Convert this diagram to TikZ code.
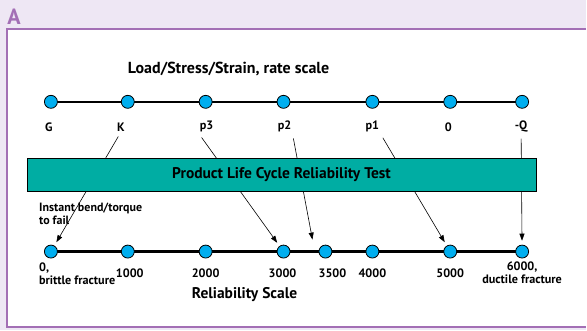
\documentclass[tikz,border=0pt]{standalone}
\usepackage{fontspec}
\setmainfont{PT Sans}
\usetikzlibrary{arrows.meta}
\definecolor{lavender}{HTML}{EEE7F4}
\definecolor{framepurple}{HTML}{A36FB5}
\definecolor{testteal}{HTML}{00ADA3}
\definecolor{dotcyan}{HTML}{00AEEF}

\begin{document}
\begin{tikzpicture}[x=1pt, y=-1pt,
    every node/.style={font=\bfseries\fontsize{12.2}{13}\selectfont},
    dot/.style={circle, draw, fill=dotcyan, line width=0.8pt, minimum size=13pt, inner sep=0pt},
    axis/.style={line width=2.6pt},
    lbl/.style={inner sep=1pt},
    link/.style={-{Triangle[length=7pt, width=5pt]}, line width=0.6pt, shorten <=5pt, shorten >=4pt}]

  % frame
  \fill[lavender] (0,0) rectangle (587,331);
  \filldraw[fill=white, draw=framepurple, line width=2pt] (587,29) -- (7,29) -- (7,328) -- (587,328);
  \node[text=framepurple, font=\bfseries\fontsize{22}{24}\selectfont] (tag) at (14,17) {A};

  \node[font=\bfseries\fontsize{16}{18}\selectfont] (loadtitle) at (229,69) {Load/Stress/Strain, rate scale};

  % load scale
  \draw[axis] (51,102) -- (523,102);
  \node[dot] (t1) at (51,102) {};
  \node[dot] (t2) at (128,102) {};
  \node[dot] (t3) at (206,102) {};
  \node[dot] (t4) at (284,102) {};
  \node[dot] (t5) at (373,102) {};
  \node[dot] (t6) at (451,102) {};
  \node[dot] (t7) at (523,102) {};

  \node[lbl] (lG) at (49,127) {G};
  \node[lbl] (lK) at (121,127) {K};
  \node[lbl] (lp3) at (207,127) {p3};
  \node[lbl] (lp2) at (285,127) {p2};
  \node[lbl] (lp1) at (373,127) {p1};
  \node[lbl] (l0) at (449,127) {0};
  \node[lbl] (lQ) at (522,127) {-Q};

  % reliability scale
  \draw[axis] (51,252) -- (523,252);
  \node[dot] (b1) at (51,252) {};
  \node[dot] (b2) at (128,252) {};
  \node[dot] (b3) at (206,252) {};
  \node[dot] (b4) at (284,252) {};
  \node[dot] (b5) at (326,252) {};
  \node[dot] (b6) at (373,252) {};
  \node[dot] (b7) at (451,252) {};
  \node[dot] (b8) at (523,252) {};

  \node[lbl, anchor=north west, align=left] (r0) at (38,262) {0,\\brittle fracture};
  \node[lbl] (r1000) at (130,274) {1000};
  \node[lbl] (r2000) at (206,274) {2000};
  \node[lbl] (r3000) at (283,274) {3000};
  \node[lbl] (r3500) at (333,274) {3500};
  \node[lbl] (r4000) at (373,274) {4000};
  \node[lbl] (r5000) at (451,274) {5000};
  \node[lbl, anchor=north, align=center] (r6000) at (523,261) {6000,\\ductile fracture};
  \node[font=\bfseries\fontsize{15.5}{17}\selectfont] (reltitle) at (245,295) {Reliability Scale};

  \node[lbl, anchor=north west, align=left, font=\bfseries\fontsize{12}{13}\selectfont] (instant) at (38,202) {Instant bend/torque\\to fail};

  % mapping
  \coordinate (gap) at (313,240);
  \draw[link] (lK.south) -- (b1);
  \draw[link] (lp3.south west) -- (b4);
  \draw[link, shorten >=0pt] (lp2.south east) -- (gap);
  \draw[link] (lp1.south east) -- (b7);
  \draw[link] (lQ.south) -- (b8);

  \node[draw, fill=testteal, minimum width=510pt, minimum height=34pt, font=\bfseries\fontsize{15.5}{17}\selectfont] (test) at (282,175) {Product Life Cycle Reliability Test};
\end{tikzpicture}
\end{document}
